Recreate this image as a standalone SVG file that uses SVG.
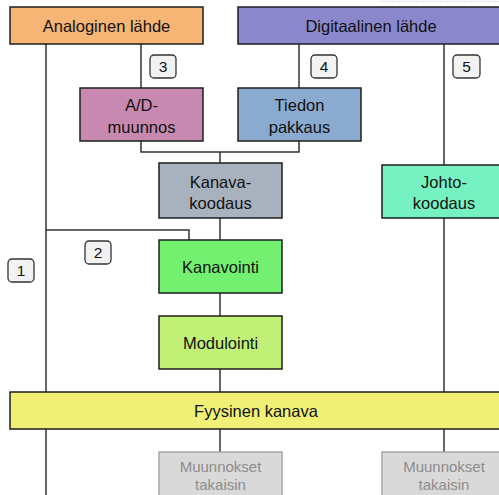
<svg xmlns="http://www.w3.org/2000/svg" width="499" height="495" viewBox="0 0 499 495">
  <style>
    .box { stroke: #1e1e1e; stroke-width: 1.5; }
    .ghost { fill: #d9d9d9; stroke: #a6a6a6; stroke-width: 1.5; }
    .lbl { font-family: "Liberation Sans", Arial, sans-serif; font-size: 16.5px; fill: #111; text-anchor: middle; }
    .glbl { font-family: "Liberation Sans", Arial, sans-serif; font-size: 15px; fill: #8c8c8c; text-anchor: middle; }
    .badge rect { fill: #f2f2f2; stroke: #333; stroke-width: 1.3; }
    .badge text { font-family: "Liberation Sans", Arial, sans-serif; font-size: 15.5px; fill: #111; text-anchor: middle; }
    .wire { fill: none; stroke: #333; stroke-width: 1.5; }
  </style>
  <rect width="499" height="495" fill="#ffffff"/>
  <line x1="380" y1="1.5" x2="499" y2="1.5" stroke="#dde4f6" stroke-width="1.5" stroke-dasharray="2 1"/>

  <!-- connectors -->
  <g id="connectors" class="wire">
    <line x1="46" y1="44" x2="46" y2="495"/>
    <line x1="141" y1="44" x2="141" y2="88"/>
    <line x1="299" y1="44" x2="299" y2="88"/>
    <line x1="444" y1="44" x2="444" y2="165"/>
    <polyline points="141,141 141,152 299,152 299,141"/>
    <line x1="220" y1="152" x2="220" y2="163"/>
    <line x1="220" y1="218" x2="220" y2="240"/>
    <polyline points="46,230 189,230 189,240"/>
    <line x1="220" y1="293" x2="220" y2="316"/>
    <line x1="220" y1="369" x2="220" y2="392"/>
    <line x1="444" y1="218" x2="444" y2="392"/>
    <line x1="220" y1="429" x2="220" y2="452"/>
    <line x1="444" y1="429" x2="444" y2="452"/>
  </g>

  <g id="analoginen">
    <rect class="box" x="10" y="7" width="193" height="37" fill="#f6b574"/>
    <text class="lbl" x="106.5" y="32">Analoginen lähde</text>
  </g>
  <g id="digitaalinen">
    <rect class="box" x="238" y="7" width="266" height="37" fill="#8a87cc"/>
    <text class="lbl" x="371" y="32">Digitaalinen lähde</text>
  </g>
  <g id="ad">
    <rect class="box" x="80" y="88" width="123" height="53" fill="#c889b0"/>
    <text class="lbl" x="141.5" y="111">A/D-</text>
    <text class="lbl" x="141.5" y="133">muunnos</text>
  </g>
  <g id="pakkaus">
    <rect class="box" x="238" y="88" width="123" height="53" fill="#8aaad0"/>
    <text class="lbl" x="299.5" y="111">Tiedon</text>
    <text class="lbl" x="299.5" y="133">pakkaus</text>
  </g>
  <g id="kanavakoodaus">
    <rect class="box" x="159" y="163" width="123" height="55" fill="#a8b2be"/>
    <text class="lbl" x="220.5" y="188">Kanava-</text>
    <text class="lbl" x="220.5" y="209">koodaus</text>
  </g>
  <g id="johtokoodaus">
    <rect class="box" x="382" y="165" width="124" height="53" fill="#76f2c2"/>
    <text class="lbl" x="444" y="188">Johto-</text>
    <text class="lbl" x="444" y="209">koodaus</text>
  </g>
  <g id="kanavointi">
    <rect class="box" x="159" y="240" width="123" height="53" fill="#73f070"/>
    <text class="lbl" x="220.5" y="273">Kanavointi</text>
  </g>
  <g id="modulointi">
    <rect class="box" x="159" y="316" width="123" height="53" fill="#c1f076"/>
    <text class="lbl" x="220.5" y="349">Modulointi</text>
  </g>
  <g id="fyysinen">
    <rect class="box" x="10" y="392" width="494" height="37" fill="#f0f077"/>
    <text class="lbl" x="256" y="417">Fyysinen kanava</text>
  </g>
  <g id="takaisin1">
    <rect class="ghost" x="159" y="452" width="123" height="50"/>
    <text class="glbl" x="220.5" y="472">Muunnokset</text>
    <text class="glbl" x="220.5" y="490">takaisin</text>
  </g>
  <g id="takaisin2">
    <rect class="ghost" x="382" y="452" width="124" height="50"/>
    <text class="glbl" x="444" y="472">Muunnokset</text>
    <text class="glbl" x="444" y="490">takaisin</text>
  </g>

  <g id="badge1" class="badge">
    <rect x="8" y="259" width="26" height="23" rx="4"/>
    <text x="21" y="276">1</text>
  </g>
  <g id="badge2" class="badge">
    <rect x="85" y="241" width="26" height="23" rx="4"/>
    <text x="98" y="258">2</text>
  </g>
  <g id="badge3" class="badge">
    <rect x="150" y="55" width="26" height="23" rx="4"/>
    <text x="163" y="72">3</text>
  </g>
  <g id="badge4" class="badge">
    <rect x="311" y="55" width="26" height="23" rx="4"/>
    <text x="324" y="72">4</text>
  </g>
  <g id="badge5" class="badge">
    <rect x="453" y="55" width="27" height="23" rx="4"/>
    <text x="466.5" y="72">5</text>
  </g>
</svg>
